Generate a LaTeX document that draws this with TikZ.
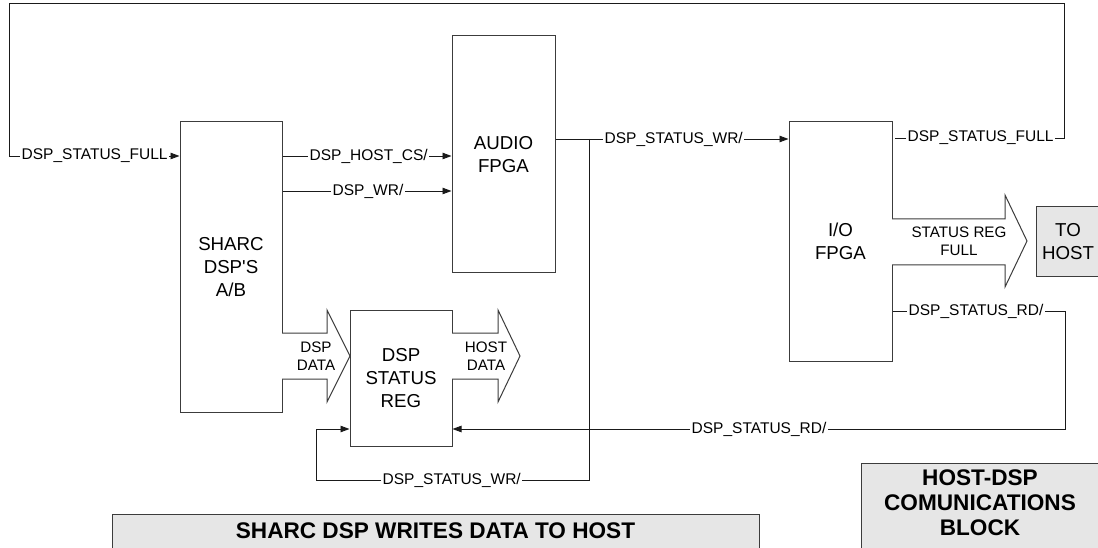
\documentclass[tikz,border=0pt]{standalone}
\usepackage{fontspec}
\newfontfamily\arialish{Liberation Sans}
\usetikzlibrary{arrows.meta}
\definecolor{boxgray}{HTML}{E6E6E6}
\definecolor{wire}{HTML}{1A1A1A}
\definecolor{edge}{HTML}{3C3C3C}
\tikzset{
  block/.style={draw=edge, line width=1pt, fill=white, align=center,
    inner sep=0pt, font=\arialish\fontsize{18.7}{23}\selectfont},
  caption/.style={draw=edge, line width=1pt, fill=boxgray, align=center,
    inner sep=0pt},
  captext/.style={align=center, inner sep=0pt,
    font=\arialish\bfseries\fontsize{22.6}{25}\selectfont},
  sig/.style={inner sep=1.5pt, font=\arialish\fontsize{15.5}{18}\selectfont},
  bus/.style={align=center, inner sep=0pt, font=\arialish\fontsize{15.2}{18}\selectfont},
  wire/.style={draw=wire, line width=0.9pt},
  arr/.style={wire, -{Triangle[length=9pt,width=6.5pt]}},
  busarrow/.style={draw=edge, line width=1pt, fill=white, line join=miter}
}
\begin{document}
\begin{tikzpicture}[x=1pt, y=-1pt]
\useasboundingbox (0,0) rectangle (1098,548);
\clip (0,0) rectangle (1098,548);

% functional blocks
\node[block, minimum width=102pt, minimum height=290pt] (sharc) at (231,267) {SHARC\\DSP'S\\A/B};
\node[block, minimum width=103pt, minimum height=237pt] (audio) at (503.5,154.5) {AUDIO\\FPGA};
\node[block, minimum width=103pt, minimum height=239pt] (io) at (840.5,241.5) {I/O\\FPGA};
\node[block, minimum width=102pt, minimum height=136pt] (reg) at (401,378) {DSP\\STATUS\\REG};
\node[block, fill=boxgray, minimum width=64pt, minimum height=69pt] (host) at (1068,241.5) {TO\\HOST};

% captions
\node[caption, minimum width=647pt, minimum height=46pt, anchor=north west] (cap1) at (112,514) {};
\node[captext] (cap1t) at (435.5,531) {SHARC DSP WRITES DATA TO HOST};
\node[caption, minimum width=240pt, minimum height=100pt, anchor=north west] (cap2) at (861,463) {};
\node[captext] (cap2t) at (980,503) {HOST-DSP\\COMUNICATIONS\\BLOCK};

% bus arrows
\draw[busarrow] (282,333) -- (327,333) -- (327,310) -- (350,356) -- (327,402) -- (327,379) -- (282,379);
\node[bus] (dspdata) at (316,356) {DSP\\DATA};
\draw[busarrow] (452,333) -- (498,333) -- (498,310) -- (520,356) -- (498,402) -- (498,379) -- (452,379);
\node[bus] (hostdata) at (486,356) {HOST\\DATA};
\draw[busarrow] (892,219) -- (1005,219) -- (1005,195) -- (1027,241) -- (1005,287) -- (1005,265) -- (892,265);
\node[bus] (regfull) at (959,241) {STATUS REG\\FULL};

% signal labels
\node[sig, anchor=west] (lfull) at (20,156) {DSP\_STATUS\_FULL};
\node[sig, anchor=west] (hcs) at (308,156) {DSP\_HOST\_CS/};
\node[sig, anchor=west] (dwr) at (331,191) {DSP\_WR/};
\node[sig, anchor=west] (swr) at (603,139) {DSP\_STATUS\_WR/};
\node[sig, anchor=west] (rfull) at (906,138) {DSP\_STATUS\_FULL};
\node[sig, anchor=west] (rd1) at (907,311) {DSP\_STATUS\_RD/};
\node[sig, anchor=west] (rd2) at (690,429) {DSP\_STATUS\_RD/};
\node[sig, anchor=west] (swr2) at (381,480) {DSP\_STATUS\_WR/};

% junction points and corners
\coordinate (tl) at (9.5,3);
\coordinate (tr) at (1064.5,3);
\coordinate (jn) at (589,139);
\coordinate (jb) at (589,480);
\coordinate (rr) at (1065,311);

% DSP_STATUS_FULL loop back to the DSP
\draw[wire] (rfull.west) -- ++(-11,0);
\draw[wire] (rfull.east) -| (tr) -- (tl) |- (lfull.west);
\draw[arr] (lfull.east) -- (sharc.west |- lfull);

% DSP to audio FPGA
\draw[wire] (sharc.east |- hcs) -- (hcs.west);
\draw[arr] (hcs.east) -- (audio.west |- hcs);
\draw[wire] (sharc.east |- dwr) -- (dwr.west);
\draw[arr] (dwr.east) -- (audio.west |- dwr);

% DSP_STATUS_WR/ from audio FPGA
\draw[wire] (audio.east |- swr) -- (swr.west);
\draw[arr] (swr.east) -- (io.west |- swr);
\draw[wire] (jn) -- (jb) -- (swr2.east);
\draw[arr] (swr2.west) -- (316,480) |- (reg.west |- 0,429);

% DSP_STATUS_RD/ from I/O FPGA
\draw[wire] (io.east |- rd1) -- (rd1.west);
\draw[wire] (rd1.east) -- (rr) |- (rd2.east);
\draw[arr] (rd2.west) -- (reg.east |- rd2);
\end{tikzpicture}
\end{document}
